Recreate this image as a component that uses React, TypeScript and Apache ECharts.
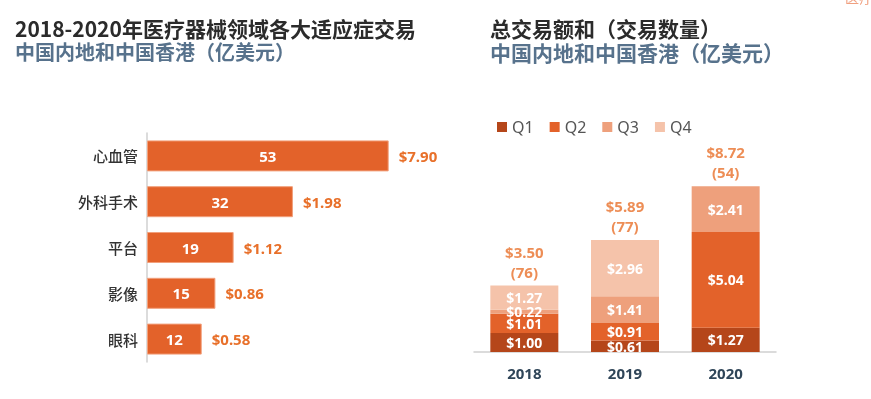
import React, { useEffect, useRef } from "react";
import * as echarts from "echarts";

const fields = ["心血管", "外科手术", "平台", "影像", "眼科"];
const fieldDeals = [53, 32, 19, 15, 12];
const fieldAmounts = ["$7.90", "$1.98", "$1.12", "$0.86", "$0.58"];

const years = ["2018", "2019", "2020"];
const q1 = [1.0, 0.61, 1.27];
const q2 = [1.01, 0.91, 5.04];
const q3 = [0.22, 1.41, 2.41];
const q4 = [1.27, 2.96, 0];
const yearTotals = [3.5, 5.89, 8.72];
const yearDeals = [76, 77, 54];

const ORANGE = "#E3622A";
const LABEL_ORANGE = "#E8702A";
const FONT = "'Noto Sans', 'Noto Sans CJK SC', sans-serif";
const CJK = "'Noto Sans CJK SC', sans-serif";

export default function App() {
  const ref = useRef<HTMLDivElement>(null);
  useEffect(() => {
    const chart = echarts.init(ref.current!, null, { renderer: "svg" });
    const segLabel = {
      show: true,
      position: "inside",
      color: "#fff",
      fontWeight: "bold",
      fontSize: 14,
      fontFamily: FONT,
      formatter: (p: any) => (p.value ? "$" + Number(p.value).toFixed(2) : ""),
    };
    chart.setOption({
      animation: false,
      textStyle: { fontFamily: FONT },
      graphic: [
        {
          type: "text",
          left: 15,
          top: 17,
          style: { text: "2018-2020年医疗器械领域各大适应症交易", fontSize: 21, fontWeight: "bold", fill: "#2b2b2b", fontFamily: CJK },
        },
        {
          type: "text",
          left: 15,
          top: 41,
          style: { text: "中国内地和中国香港（亿美元）", fontSize: 20, fontWeight: "bold", fill: "#57728c", fontFamily: CJK },
        },
        {
          type: "text",
          left: 490,
          top: 17,
          style: { text: "总交易额和（交易数量）", fontSize: 21, fontWeight: "bold", fill: "#2b2b2b", fontFamily: CJK },
        },
        {
          type: "text",
          left: 490,
          top: 41,
          style: { text: "中国内地和中国香港（亿美元）", fontSize: 21, fontWeight: "bold", fill: "#57728c", fontFamily: CJK },
        },
        {
          type: "text",
          x: 845,
          y: -10,
          style: { text: "医疗", fontSize: 14, fill: "#F0A080", fontFamily: CJK },
        },
      ],
      legend: {
        data: ["Q1", "Q2", "Q3", "Q4"],
        left: 492,
        top: 114,
        icon: "rect",
        itemWidth: 10,
        itemHeight: 10,
        itemGap: 16,
        textStyle: { fontSize: 16, color: "#555", fontFamily: FONT },
      },
      grid: [
        { left: 147, top: 133, width: 273.6, height: 229 },
        { left: 474, top: 162, width: 302, height: 190 },
      ],
      xAxis: [
        { gridIndex: 0, type: "value", min: 0, max: 60, show: false },
        {
          gridIndex: 1,
          type: "category",
          data: years,
          axisLine: { lineStyle: { color: "#d0d0d0", width: 1.5 } },
          axisTick: { show: false },
          axisLabel: { fontSize: 15, fontWeight: "bold", color: "#2f4558", margin: 13, fontFamily: FONT },
        },
      ],
      yAxis: [
        {
          gridIndex: 0,
          type: "category",
          data: fields,
          inverse: true,
          axisLine: { lineStyle: { color: "#d0d0d0", width: 1.5 } },
          axisTick: { show: false },
          axisLabel: { fontSize: 15, fontWeight: 500, color: "#333", margin: 9, fontFamily: CJK },
        },
        { gridIndex: 1, type: "value", min: 0, max: 10, show: false },
      ],
      series: [
        {
          type: "bar",
          xAxisIndex: 0,
          yAxisIndex: 0,
          data: fieldDeals,
          barWidth: 31,
          itemStyle: { color: ORANGE, borderColor: "#F2A07C", borderWidth: 1 },
          label: { show: true, position: "inside", color: "#fff", fontWeight: "bold", fontSize: 15, fontFamily: FONT },
        },
        {
          type: "bar",
          xAxisIndex: 0,
          yAxisIndex: 0,
          data: fieldDeals,
          barWidth: 31,
          barGap: "-100%",
          itemStyle: { color: "transparent" },
          label: {
            show: true,
            position: "right",
            distance: 10,
            color: LABEL_ORANGE,
            fontWeight: "bold",
            fontSize: 15,
            fontFamily: FONT,
            formatter: (p: any) => fieldAmounts[p.dataIndex],
          },
          silent: true,
        },
        {
          name: "Q1",
          type: "bar",
          xAxisIndex: 1,
          yAxisIndex: 1,
          stack: "t",
          data: q1,
          barWidth: 68,
          itemStyle: { color: "#B5461A" },
          label: segLabel,
        },
        {
          name: "Q2",
          type: "bar",
          xAxisIndex: 1,
          yAxisIndex: 1,
          stack: "t",
          data: q2,
          barWidth: 68,
          itemStyle: { color: ORANGE },
          label: segLabel,
        },
        {
          name: "Q3",
          type: "bar",
          xAxisIndex: 1,
          yAxisIndex: 1,
          stack: "t",
          data: q3,
          barWidth: 68,
          itemStyle: { color: "#EEA07C" },
          label: segLabel,
        },
        {
          name: "Q4",
          type: "bar",
          xAxisIndex: 1,
          yAxisIndex: 1,
          stack: "t",
          data: q4,
          barWidth: 68,
          itemStyle: { color: "#F5C3AA" },
          label: segLabel,
        },
        {
          type: "scatter",
          xAxisIndex: 1,
          yAxisIndex: 1,
          data: yearTotals,
          symbolSize: 0,
          silent: true,
          label: {
            show: true,
            position: "top",
            distance: 4,
            color: LABEL_ORANGE,
            fontWeight: "bold",
            fontSize: 15,
            lineHeight: 20,
            fontFamily: FONT,
            align: "center",
            formatter: (p: any) => "$" + yearTotals[p.dataIndex].toFixed(2) + "\n(" + yearDeals[p.dataIndex] + ")",
          },
        },
      ],
    });
    return () => chart.dispose();
  }, []);
  return <div ref={ref} style={{ position: "fixed", left: 0, top: 0, width: 871, height: 399 }} />;
}
